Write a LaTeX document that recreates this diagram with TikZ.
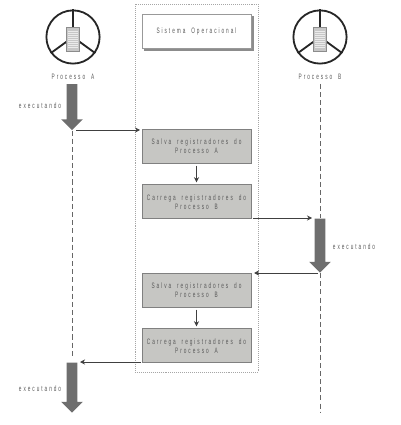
\documentclass[tikz,border=0pt]{standalone}
\usepackage{fontspec}
\setmainfont{Liberation Sans}
\newfontfamily\spaced[LetterSpace=25,FakeStretch=0.6,WordSpace=1.8]{Liberation Sans}
\usetikzlibrary{shapes.arrows, arrows.meta, positioning}
\definecolor{boxgray}{HTML}{C6C6C3}
\definecolor{rungray}{HTML}{6E6E6E}
\tikzset{
  label text/.style={font=\fontsize{5.6}{6.4}\selectfont\spaced, text=black!65, align=center, inner sep=0pt},
  regbox/.style={
    rectangle, minimum width=2.725cm, minimum height=0.85cm,
    draw=black!50, semithick, fill=boxgray, label text
  },
  titlebox/.style={
    rectangle, minimum width=2.725cm, minimum height=0.85cm,
    draw=black!40, semithick, fill=white, label text
  },
  wheel/.style={circle, minimum size=1.33cm, draw=black!85, line width=1.3pt, inner sep=0pt},
  docicon/.style={rectangle, minimum width=0.33cm, minimum height=0.6cm, draw=black!45, fill=black!22, inner sep=0pt},
  runarrow/.style={
    single arrow, shape border rotate=270, fill=rungray, inner sep=0.125cm,
    minimum width=0.525cm, single arrow head extend=0.1375cm, #1
  },
  lifeline/.style={black!60, line width=0.7pt, dash pattern=on 3.6pt off 2.2pt},
  arrow/.style={-{Stealth[length=3.6pt,width=3.6pt]}, black!75, line width=0.7pt}
}

\begin{document}
\begin{tikzpicture}[x=0.025cm, y=-0.025cm, node distance=0.525cm]
  \useasboundingbox (0,0) rectangle (400,425);

  % sistema operacional
  \node[rectangle, draw=black!35, densely dotted, minimum width=3.075cm, minimum height=9.2cm] (so) at (196.5,188) {};
  \node[titlebox, fill=black!45, draw=black!45] (shadow) at (198.5,33) {};
  \node[titlebox] (title) at (196.5,31) {Sistema Operacional};

  \node[regbox] (salvaA) at (196.5,146) {Salva registradores do\\Processo A};
  \node[regbox, below=of salvaA] (carregaB) {Carrega registradores do\\Processo B};
  \node[regbox] (salvaB) at (196.5,290) {Salva registradores do\\Processo B};
  \node[regbox, below=of salvaB] (carregaA) {Carrega registradores do\\Processo A};

  % processos
  \foreach \name/\cx in {A/73,B/320} {
    \node[wheel] (wheel\name) at (\cx,37) {};
    \draw[black!85, line width=1.3pt] (wheel\name.center) -- (wheel\name.90);
    \draw[black!85, line width=1.3pt] (wheel\name.center) -- (wheel\name.216);
    \draw[black!85, line width=1.3pt] (wheel\name.center) -- (wheel\name.324);
    \node[docicon] (doc\name) at (\cx,39) {};
    \foreach \yy in {31,33,...,47}
      \draw[black!8, line width=0.5pt] (\cx-5,\yy) -- (\cx+5,\yy);
    \node[label text, below=0.22cm of wheel\name] (proc\name) {Processo \name};
  }

  % trechos em execucao
  \node[runarrow, minimum height=1.15cm] (runA) at (72,104.5) {};
  \node[runarrow, minimum height=1.35cm] (runB) at (320,243) {};
  \node[runarrow, minimum height=1.25cm] (runC) at (72,385) {};
  \node[label text] (execA) at (40,106) {executando};
  \node[label text] (execB) at (354,247) {executando};
  \node[label text] (execC) at (40,389) {executando};

  % linhas de vida
  \coordinate (endA) at (72,358);
  \coordinate (startB) at (320,84);
  \coordinate (endB) at (320,412);
  \draw[lifeline] (runA.tip) -- (endA);
  \draw[lifeline] (startB) -- (runB.north);
  \draw[lifeline] (runB.tip) -- (endB);

  % trocas de contexto
  \coordinate (fromA) at (76,130);
  \coordinate (toSalvaA) at (140,130);
  \coordinate (fromCarregaB) at (253,218);
  \coordinate (toB) at (312,218);
  \coordinate (fromB) at (318,273);
  \coordinate (toSalvaB) at (254,273);
  \coordinate (fromCarregaA) at (141,362);
  \coordinate (toA) at (80,362);
  \foreach \from/\to in {fromA/toSalvaA,fromCarregaB/toB,fromB/toSalvaB,fromCarregaA/toA}
    \draw[arrow] (\from) -- (\to);
  \foreach \from/\to in {salvaA/carregaB,salvaB/carregaA}
    \draw[arrow, shorten <=1.5pt, shorten >=1.5pt] (\from) -- (\to);
\end{tikzpicture}
\end{document}
